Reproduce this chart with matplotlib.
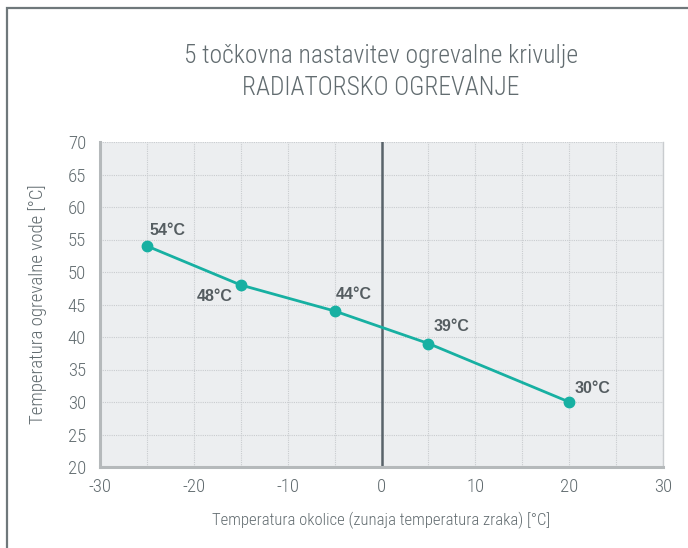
import matplotlib
matplotlib.use("Agg")
import matplotlib.pyplot as plt
from matplotlib.patches import Rectangle
import matplotlib.font_manager as fm

names = {f.name for f in fm.fontManager.ttflist}
fam = [f for f in ["Roboto Condensed", "Liberation Sans Narrow", "Roboto", "DejaVu Sans"] if f in names]
plt.rcParams['font.family'] = fam
plt.rcParams['axes.unicode_minus'] = False
bold_fam = [f for f in ["Liberation Sans", "Roboto", "DejaVu Sans"] if f in names]

outside_temp = [-25, -15, -5, 5, 20]
water_temp = [54, 48, 44, 39, 30]
point_labels = ["54°C", "48°C", "44°C", "39°C", "30°C"]
x_ticks = [-30, -20, -10, 0, 10, 20, 30]
y_ticks = [20, 25, 30, 35, 40, 45, 50, 55, 60, 65, 70]
title = "5 točkovna nastavitev ogrevalne krivulje\nRADIATORSKO OGREVANJE"
xlabel = "Temperatura okolice (zunaja temperatura zraka) [°C]"
ylabel = "Temperatura ogrevalne vode [°C]"

text_col = "#626c70"
teal = "#17b0a2"

fig = plt.figure(figsize=(6.88, 5.48), dpi=100)
fig.patches.append(Rectangle((7/688, -0.1), 1.1, 1.1 - 8/548, transform=fig.transFigure,
                             fill=False, edgecolor="#6f787b", linewidth=1.6))
ax = fig.add_axes([100/688, 1-467/548, 563/688, 325/548])
ax.set_facecolor("#eceef0")
ax.set_xlim(-30, 30)
ax.set_ylim(20, 70)
ax.set_xticks(x_ticks)
ax.set_yticks(y_ticks)
ax.set_xticks(range(-30, 31, 5), minor=True)
ax.grid(True, which='both', color="#c9cccf", linestyle=(0, (1, 1)), linewidth=0.8)
ax.tick_params(which='both', length=0, colors=text_col, labelsize=13.5, pad=8)
ax.tick_params(axis='y', pad=10)
for t in ax.get_xticklabels() + ax.get_yticklabels():
    t.set_fontweight('light')
ax.spines["top"].set_visible(False)
ax.spines["left"].set_color("#b5b9bb")
ax.spines["left"].set_linewidth(2.2)
ax.spines["bottom"].set_color("#b5b9bb")
ax.spines["bottom"].set_linewidth(2.2)
ax.spines["right"].set_color("#c9cccf")
ax.spines["right"].set_linewidth(1)
ax.axvline(0, color="#59636a", linewidth=1.8, zorder=2)

ax.plot(outside_temp, water_temp, color=teal, linewidth=2, marker='o', markersize=7.5, zorder=3,
        clip_on=False)

offsets = [(2, 11, 'left'), (-6, -8, 'right'), (1, 12, 'left'), (4, 12, 'left'), (4, 10, 'left')]
for x, y, lab, (dx, dy, ha) in zip(outside_temp, water_temp, point_labels, offsets):
    ax.annotate(lab, (x, y), xytext=(dx, dy), textcoords='offset points', ha=ha, va='center',
                fontsize=11.5, fontweight='bold', color="#555d61", zorder=4, family=bold_fam)

ax.set_xlabel(xlabel, color=text_col, fontsize=12, labelpad=11, fontweight='light')
ax.set_ylabel(ylabel, color=text_col, fontsize=13.6, fontweight='light', va='center')
ax.yaxis.set_label_coords(-62/563, 0.5)
fig.text(381/688, 1-72/548, title, ha='center', va='center', fontsize=18.4, color=text_col,
         linespacing=1.4, fontweight='light')

fig.savefig("out.png", dpi=100)
